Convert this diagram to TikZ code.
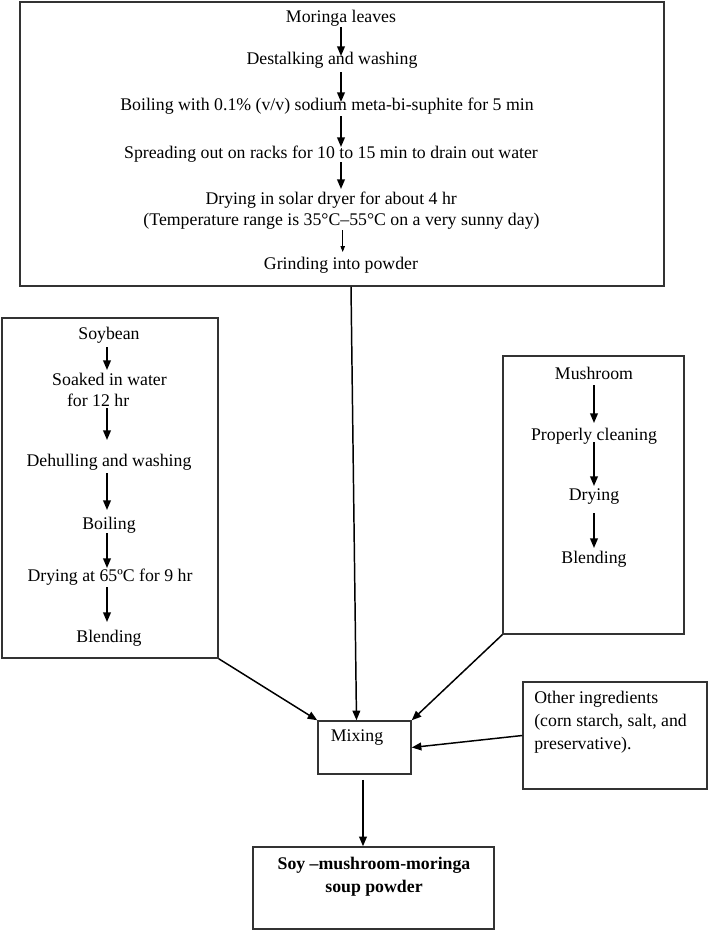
\documentclass[tikz,border=0pt]{standalone}
\usepackage{fontspec}
\setmainfont{Liberation Serif}
\usetikzlibrary{arrows.meta,positioning}
\newcommand{\pxu}{0.675pt}

\begin{document}
\begin{tikzpicture}[x=\pxu, y=-\pxu,
  box/.style={draw=black!80, line width=1pt, inner sep=0pt},
  txt/.style={font=\fontsize{12}{14.2}\selectfont, inner sep=0pt},
  flow/.style={-{Triangle[length=6.5pt,width=5.2pt]}, line width=1pt},
  thinflow/.style={-{Triangle[length=4pt,width=3pt]}, line width=0.6pt}]
  \useasboundingbox (0,0) rectangle (709,930);

  % ======= Moringa (top) =======
  \node[box, minimum width=644*\pxu, minimum height=284*\pxu] (moringabox) at (342,144) {};
  \node[txt] (moringa) at (341,18) {Moringa leaves};
  \node[txt] (destalk) at (332,60) {Destalking and washing};
  \node[txt] (boil) at (327,106) {Boiling with 0.1\% (v/v) sodium meta-bi-suphite for 5 min};
  \node[txt] (spread) at (331,154) {Spreading out on racks for 10 to 15 min to drain out water};
  \node[txt, align=left] (solar) at (341.5,210.5)
    {\hspace*{41.9pt}Drying in solar dryer for about 4 hr\\(Temperature range is 35°C–55°C on a very sunny day)};
  \node[txt] (grind) at (341,265) {Grinding into powder};

  \draw[flow] ([yshift=-9*\pxu]moringa.center) -- ([xshift=9*\pxu,yshift=4*\pxu]destalk.center);
  \draw[flow] ([xshift=9*\pxu,yshift=-12*\pxu]destalk.center) -- ([xshift=14*\pxu,yshift=4*\pxu]boil.center);
  \draw[flow] ([xshift=14*\pxu,yshift=-10*\pxu]boil.center) -- ([xshift=10*\pxu,yshift=7*\pxu]spread.center);
  \draw[flow] ([xshift=10*\pxu,yshift=-8*\pxu]spread.center) -- ([xshift=-0.5*\pxu,yshift=21.5*\pxu]solar.center);
  \draw[thinflow] ([xshift=1.2*\pxu,yshift=-19.5*\pxu]solar.center) -- ([xshift=1.7*\pxu,yshift=13*\pxu]grind.center);

  % ======= Soybean (left) =======
  \node[box, minimum width=216*\pxu, minimum height=340*\pxu] (soybox) at (110,488) {};
  \node[txt] (soy) at (109,335) {Soybean};
  \node[txt, align=left] (soak) at (109.5,390) {Soaked in water\\\hspace*{10pt}for 12 hr};
  \node[txt] (dehull) at (109,462) {Dehulling and washing};
  \node[txt] (soyboil) at (109,525) {Boiling};
  \node[txt] (soydry) at (110,577) {Drying at 65ºC for 9 hr};
  \node[txt] (soyblend) at (109,638) {Blending};

  \draw[flow] ([xshift=-2*\pxu,yshift=-12*\pxu]soy.center) -- ([xshift=-2.5*\pxu,yshift=20*\pxu]soak.center);
  \draw[flow] ([xshift=-2.5*\pxu,yshift=-18*\pxu]soak.center) -- ([xshift=-2*\pxu,yshift=22*\pxu]dehull.center);
  \draw[flow] ([xshift=-2*\pxu,yshift=-11*\pxu]dehull.center) -- ([xshift=-2*\pxu,yshift=15*\pxu]soyboil.center);
  \draw[flow] ([xshift=-2*\pxu,yshift=-8*\pxu]soyboil.center) -- ([xshift=-3*\pxu,yshift=9*\pxu]soydry.center);
  \draw[flow] ([xshift=-3*\pxu,yshift=-10*\pxu]soydry.center) -- ([xshift=-2*\pxu,yshift=16*\pxu]soyblend.center);

  % ======= Mushroom (right) =======
  \node[box, minimum width=181*\pxu, minimum height=278*\pxu] (mushbox) at (593.5,495) {};
  \node[txt] (mush) at (594,373) {Mushroom};
  \node[txt] (clean) at (594,436) {Properly cleaning};
  \node[txt] (mushdry) at (594,497) {Drying};
  \node[txt] (mushblend) at (594,559) {Blending};

  \draw[flow] ([yshift=-12*\pxu]mush.center) -- ([yshift=13*\pxu]clean.center);
  \draw[flow] ([yshift=-6*\pxu]clean.center) -- ([yshift=11*\pxu]mushdry.center);
  \draw[flow] ([yshift=-16*\pxu]mushdry.center) -- ([yshift=11*\pxu]mushblend.center);

  % ======= Mixing and product =======
  \node[box, minimum width=93*\pxu, minimum height=53*\pxu] (mixing) at (364.5,747.5) {};
  \node[txt] (mixlbl) at (357,738) {Mixing};

  \node[box, minimum width=184*\pxu, minimum height=107*\pxu] (other) at (615,735.5) {};
  \node[txt, align=left, anchor=west, font=\fontsize{12}{15.5}\selectfont] (otherlbl) at (534,722)
    {Other ingredients\\(corn starch, salt, and\\preservative).};

  \node[box, minimum width=241*\pxu, minimum height=82*\pxu] (product) at (373.5,888) {};
  \node[txt, align=center, font=\fontsize{12}{15.5}\selectfont\bfseries] (productlbl) at (374,876.5)
    {Soy –mushroom-moringa\\soup powder};

  \draw[flow] (soybox.south east) -- (mixing.north west);
  \draw[flow] ([xshift=9*\pxu]moringabox.south) -- ([xshift=-8*\pxu]mixing.north);
  \draw[flow] (mushbox.south west) -- (mixing.north east);
  \draw[flow] (other.west) -- (mixing.east);
  \draw[flow] ([xshift=-1.5*\pxu,yshift=-5*\pxu]mixing.south) -- ([xshift=-1.5*\pxu]mixing.south |- product.north);
\end{tikzpicture}
\end{document}
